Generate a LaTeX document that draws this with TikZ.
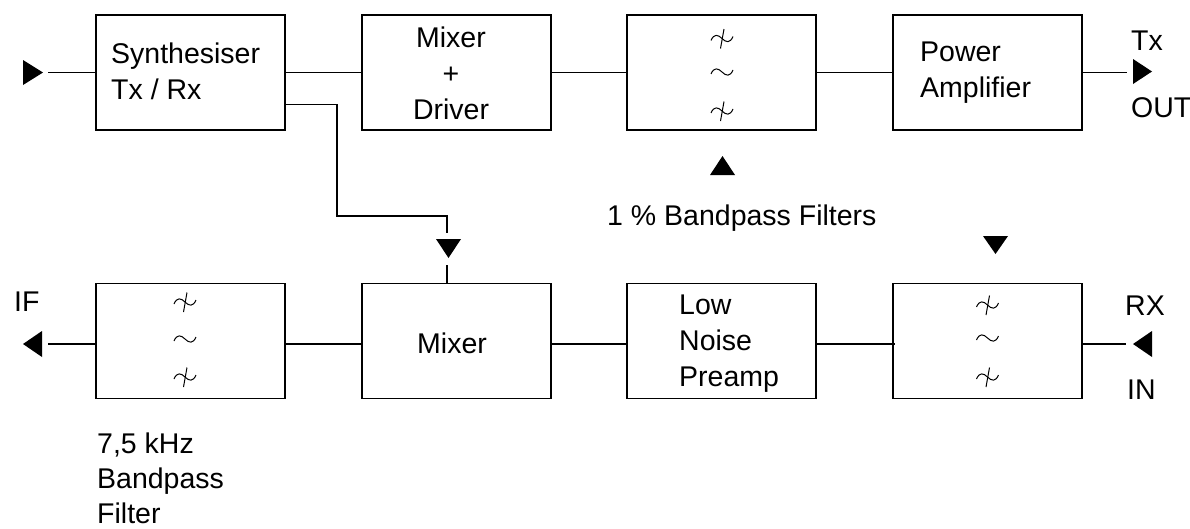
\documentclass[tikz,border=0pt]{standalone}
\usepackage{fontspec}
\setmainfont{Liberation Sans}
\begin{document}
\begin{tikzpicture}[x=1pt,y=-1pt,
  box/.style={draw=black, line width=1.4pt, minimum width=189pt, minimum height=115pt, inner sep=0pt},
  txt/.style={inner sep=0pt, font=\fontsize{28.5}{36}\selectfont},
  wire/.style={line width=1.2pt},
  tri/.style={fill=black},
  sym/.style={line width=1pt},
  tld/.pic={\draw[sym] (-11,2) .. controls (-8,-5) and (-4,-4) .. (0,0) .. controls (4,4) and (8,5) .. (11,-2);},
  bpf/.pic={\draw[sym] (-11,2) .. controls (-8,-5) and (-4,-4) .. (0,0) .. controls (4,4) and (8,5) .. (11,-2);
            \draw[sym] (2,-9.5) -- (-1.5,10);}
]
\useasboundingbox (0,0) rectangle (1190,528);
\fill[white] (0,0) rectangle (1190,528);

% ---- top row ----
\node[box] (synth)  at (190.5,72.5) {};
\node[box] (mixdrv) at (456.5,72.5) {};
\node[box] (txf)    at (721.5,72.5) {};
\node[box] (pa)     at (987.5,72.5) {};
% ---- bottom row ----
\node[box] (iff) at (190.5,340.75) {};
\node[box] (mix) at (456.5,340.75) {};
\node[box] (lnp) at (721.5,340.75) {};
\node[box] (rxf) at (987.5,340.75) {};

% texts in boxes
\node[txt, anchor=north west, align=left] (synthT) at (111,43) {Synthesiser\\Tx / Rx};
\node[txt, anchor=north, align=center] (mixdrvT) at (451,27) {Mixer\\+\\Driver};
\node[txt, anchor=north west, align=left] (paT) at (920,42) {Power\\Amplifier};
\node[txt, anchor=base west] (mixT) at (417,353) {Mixer};
\node[txt, anchor=north west, align=left] (lnpT) at (679,295) {Low\\Noise\\Preamp};

% filter symbols
\pic at (722,38.5) {bpf};
\pic at (722,72) {tld};
\pic at (722,111) {bpf};
\pic at (185,302) {bpf};
\pic at (185,339) {tld};
\pic at (185,377) {bpf};
\pic at (987.5,305) {bpf};
\pic at (987.5,338) {tld};
\pic at (987.5,377) {bpf};

% outside labels
\node[txt, anchor=base west] (txL) at (1131,50) {Tx};
\node[txt, anchor=base west] (outL) at (1131,117) {OUT};
\node[txt, anchor=base west] (bpL) at (607,225) {1 \% Bandpass Filters};
\node[txt, anchor=base west] (ifL) at (14,311) {IF};
\node[txt, anchor=base west] (rxL) at (1125,315) {RX};
\node[txt, anchor=base west] (inL2) at (1127,399) {IN};
\node[txt, anchor=north west, align=left, font=\fontsize{28.5}{35}\selectfont] (ifbpL) at (97,433) {7,5 kHz\\Bandpass\\Filter};

% connector end points
\coordinate (inL) at (48,72.5);
\coordinate (txo) at (1127,72.5);
\coordinate (ifo) at (48,344);
\coordinate (rxi) at (1126,344);
\coordinate (loA) at (447,233);
\coordinate (loB) at (447,265);

% top row wires
\draw[wire] (inL) -- (inL -| synth.west);
\draw[wire] (synth.east) -- (mixdrv.west);
\draw[wire] (mixdrv.east) -- (txf.west);
\draw[wire] (txf.east) -- (pa.west);
\draw[wire] (txo -| pa.east) -- (txo);
% LO path
\draw[wire] ([yshift=-32pt]synth.east) -- (337,104.5) -- (337,216) -| (loA);
\draw[wire] (loB) -- (loB |- mix.north);
% bottom row wires
\draw[wire] (ifo) -- (ifo -| iff.west);
\draw[wire] ([yshift=-3.25pt]iff.east) -- ([yshift=-3.25pt]mix.west);
\draw[wire] ([yshift=-3.25pt]mix.east) -- ([yshift=-3.25pt]lnp.west);
\draw[wire] ([yshift=-3.25pt]lnp.east) -- ([yshift=-3.25pt,xshift=3pt]rxf.west);
\draw[wire] (rxi -| rxf.east) -- (rxi);

% arrowheads
\fill[tri] (23,60) -- (43,72.5) -- (23,85) -- cycle;
\fill[tri] (1133,59) -- (1152,71.5) -- (1133,84) -- cycle;
\fill[tri] (42,331) -- (23,344) -- (42,357) -- cycle;
\fill[tri] (1152,331) -- (1133,344) -- (1152,357) -- cycle;
\fill[tri] (436,239) -- (461,239) -- (448.5,258) -- cycle;
\fill[tri] (983,236) -- (1008,236) -- (995.5,254) -- cycle;
\fill[tri] (710,175) -- (735,175) -- (722.5,156) -- cycle;
\end{tikzpicture}
\end{document}
